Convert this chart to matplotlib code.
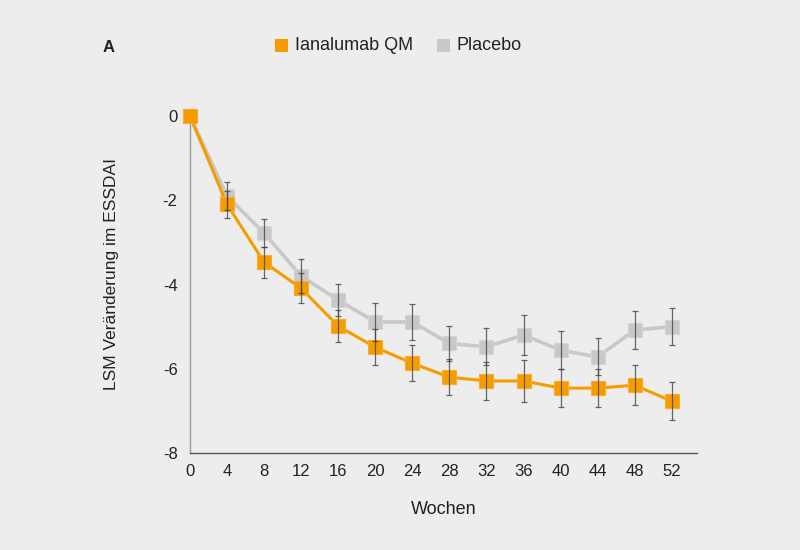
import matplotlib.pyplot as plt
import numpy as np

plt.rcParams['font.family'] = ['Liberation Sans', 'DejaVu Sans']

# data
weeks = [0, 4, 8, 12, 16, 20, 24, 28, 32, 36, 40, 44, 48, 52]
ianalumab = [0, -2.1, -3.47, -4.09, -4.99, -5.49, -5.87, -6.2, -6.29, -6.29, -6.46, -6.46, -6.39, -6.77]
ianalumab_err = [0, 0.32, 0.37, 0.36, 0.38, 0.43, 0.43, 0.42, 0.45, 0.49, 0.45, 0.45, 0.47, 0.45]
placebo = [0, -1.9, -2.78, -3.8, -4.37, -4.89, -4.89, -5.4, -5.48, -5.2, -5.56, -5.72, -5.08, -5.0]
placebo_err = [0, 0.33, 0.33, 0.4, 0.38, 0.45, 0.42, 0.42, 0.44, 0.47, 0.45, 0.44, 0.46, 0.44]
xticks = [0, 4, 8, 12, 16, 20, 24, 28, 32, 36, 40, 44, 48, 52]
yticks = [0, -2, -4, -6, -8]

orange = '#F59C00'
grey = '#C8C8C8'
bg = '#EDEDED'
txt = '#222222'

fig = plt.figure(figsize=(8, 5.5), dpi=100, facecolor=bg)
ax = fig.add_axes([0.2375, 0.1764, 0.6335, 0.6126])
ax.set_facecolor(bg)

# placebo first, ianalumab on top
ax.plot(weeks, placebo, color=grey, lw=2.6, marker='s', ms=10, mec='#D4D4D4', mew=0.8,
        zorder=3, clip_on=False)
ax.plot(weeks, ianalumab, color=orange, lw=2.2, marker='s', ms=10, mec='#F8AC30', mew=0.8,
        zorder=4, clip_on=False)

# error bars (skip week 0)
ax.errorbar(weeks[1:], placebo[1:], yerr=placebo_err[1:], fmt='none', ecolor='#444444',
            elinewidth=0.9, capsize=2.5, capthick=0.9, alpha=0.8, zorder=5)
ax.errorbar(weeks[1:], ianalumab[1:], yerr=ianalumab_err[1:], fmt='none', ecolor='#444444',
            elinewidth=0.9, capsize=2.5, capthick=0.9, alpha=0.8, zorder=5)

ax.set_xlim(0, 54.7)
ax.set_ylim(-8, 0)
ax.set_xticks(xticks)
ax.set_yticks(yticks)
ax.set_yticklabels([str(t) for t in yticks])
ax.tick_params(axis='both', length=0, labelsize=12, colors=txt)
ax.tick_params(axis='x', pad=8)
ax.tick_params(axis='y', pad=9)

for s in ['top', 'right']:
    ax.spines[s].set_visible(False)
ax.spines['left'].set_color('#999999')
ax.spines['left'].set_linewidth(1.0)
ax.spines['bottom'].set_color('#555555')
ax.spines['bottom'].set_linewidth(1.0)

ax.set_xlabel('Wochen', fontsize=13, color=txt)
ax.set_ylabel('LSM Veränderung im ESSDAI', fontsize=12.5, color=txt)
ax.xaxis.set_label_coords(0.5, -0.169)
ax.yaxis.set_label_coords(-0.154, 0.53)
ax.xaxis.label.set_va('center')
ax.yaxis.label.set_va('center')

# legend and panel label
fig.text(0.136, 0.913, 'A', fontsize=12, fontweight='bold', color=txt, ha='center', va='center')
fig.patches.append(plt.Rectangle((0.344, 0.9055), 0.016, 0.0236, transform=fig.transFigure,
                                 facecolor=orange, edgecolor='none'))
fig.text(0.369, 0.918, 'Ianalumab QM', fontsize=13, color=txt, ha='left', va='center')
fig.patches.append(plt.Rectangle((0.546, 0.9055), 0.016, 0.0236, transform=fig.transFigure,
                                 facecolor=grey, edgecolor='none'))
fig.text(0.571, 0.918, 'Placebo', fontsize=13, color=txt, ha='left', va='center')

fig.savefig('out.png', dpi=100, facecolor=bg)
